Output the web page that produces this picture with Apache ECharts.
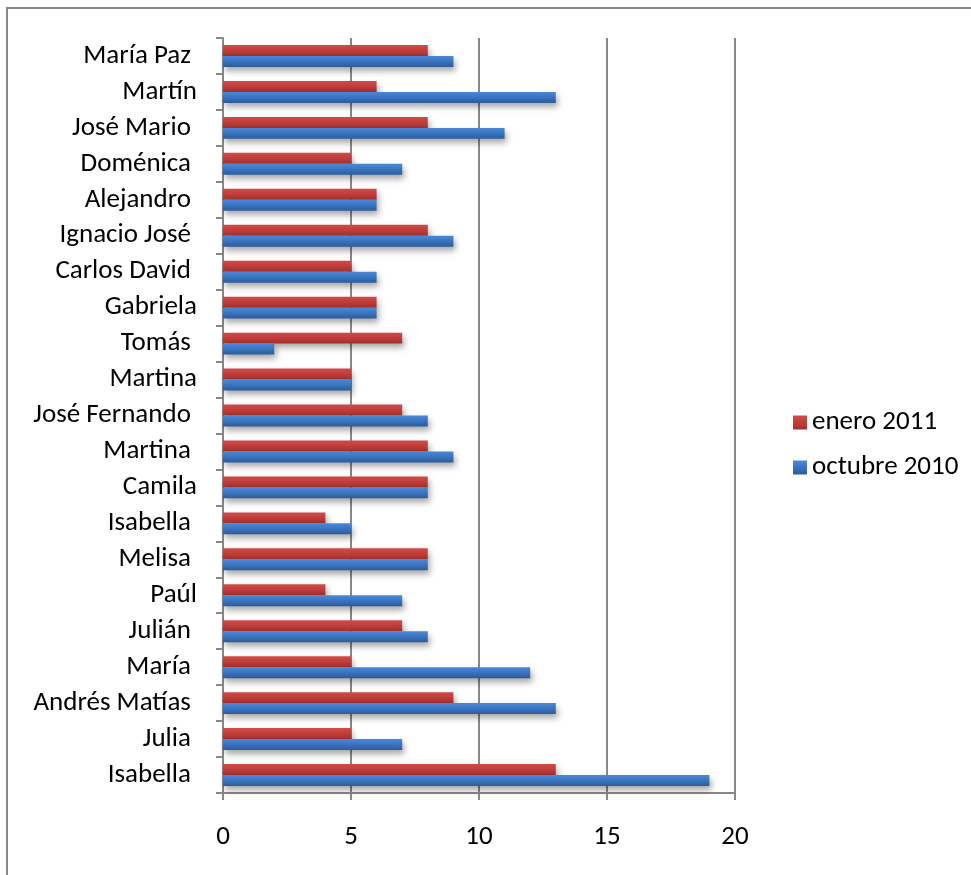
<!DOCTYPE html>
<html>
<head>
<meta charset="utf-8">
<script src="https://cdn.jsdelivr.net/npm/echarts@6/dist/echarts.min.js"></script>
<style>
html,body{margin:0;padding:0;background:#fff;}
#chart{width:971px;height:875px;}
</style>
</head>
<body>
<div id="chart"></div>
<script>
// Categories listed bottom to top
var categories = ['Isabella ', 'Julia ', 'Andrés Matías ', 'María ', 'Julián ', 'Paúl', 'Melisa ', 'Isabella ', 'Camila', 'Martina ', 'José Fernando ', 'Martina', 'Tomás ', 'Gabriela', 'Carlos David ', 'Ignacio José ', 'Alejandro ', 'Doménica ', 'José Mario ', 'Martín', 'María Paz '];
var octubre2010 = [19, 7, 13, 12, 8, 7, 8, 5, 8, 9, 8, 5, 2, 6, 6, 9, 6, 7, 11, 13, 9];
var enero2011 = [13, 5, 9, 5, 7, 4, 8, 4, 8, 8, 7, 5, 7, 6, 5, 8, 6, 5, 8, 6, 8];
var xTicks = [0, 5, 10, 15, 20];

var FONT = 'Carlito, Lato, sans-serif';
var chart = echarts.init(document.getElementById('chart'), null, {renderer: 'canvas'});

function grad(c0, c1, c2) {
  return new echarts.graphic.LinearGradient(0, 0, 0, 1, [
    {offset: 0, color: c0}, {offset: 0.45, color: c1}, {offset: 1, color: c2}
  ]);
}
var redGrad = grad('#d24a47', '#c33f3c', '#9e302e');
var blueGrad = grad('#4a88d6', '#3b76c2', '#2c5b9a');

chart.setOption({
  animation: false,
  backgroundColor: '#fff',
  textStyle: {fontFamily: FONT},
  graphic: [{
    type: 'rect', silent: true, z: -10,
    shape: {x: 7, y: 8, width: 1100, height: 1000},
    style: {fill: 'none', stroke: '#888888', lineWidth: 2}
  }],
  grid: {left: 223, right: 236, top: 38, bottom: 82},
  legend: {
    orient: 'vertical',
    left: 788, top: 404,
    itemWidth: 14, itemHeight: 14, itemGap: 18,
    icon: 'rect',
    data: ['enero 2011', 'octubre 2010'],
    textStyle: {fontFamily: FONT, fontSize: 27, color: '#000'}
  },
  xAxis: {
    type: 'value', min: xTicks[0], max: xTicks[xTicks.length - 1], interval: 5,
    axisLine: {show: true, lineStyle: {color: '#888888', width: 2}},
    axisTick: {show: true, length: 7, lineStyle: {color: '#888888', width: 2}},
    axisLabel: {fontFamily: FONT, fontSize: 27, color: '#000', margin: 31},
    splitLine: {show: true, lineStyle: {color: '#888888', width: 2}}
  },
  yAxis: {
    type: 'category', data: categories,
    axisLine: {show: true, lineStyle: {color: '#888888', width: 2}},
    axisTick: {show: true, length: 7, lineStyle: {color: '#888888', width: 2}},
    axisLabel: {fontFamily: FONT, fontSize: 27, color: '#000', margin: 26}
  },
  series: [
    {
      name: 'enero 2011', type: 'bar', data: enero2011,
      barGap: '0%', barCategoryGap: '39%',
      itemStyle: {color: redGrad, shadowColor: 'rgba(0,0,0,0.35)', shadowBlur: 6, shadowOffsetX: 2, shadowOffsetY: 4}
    },
    {
      name: 'octubre 2010', type: 'bar', data: octubre2010,
      barGap: '0%', barCategoryGap: '39%',
      itemStyle: {color: blueGrad, shadowColor: 'rgba(0,0,0,0.35)', shadowBlur: 6, shadowOffsetX: 2, shadowOffsetY: 4}
    }
  ]
});
</script>
</body>
</html>
